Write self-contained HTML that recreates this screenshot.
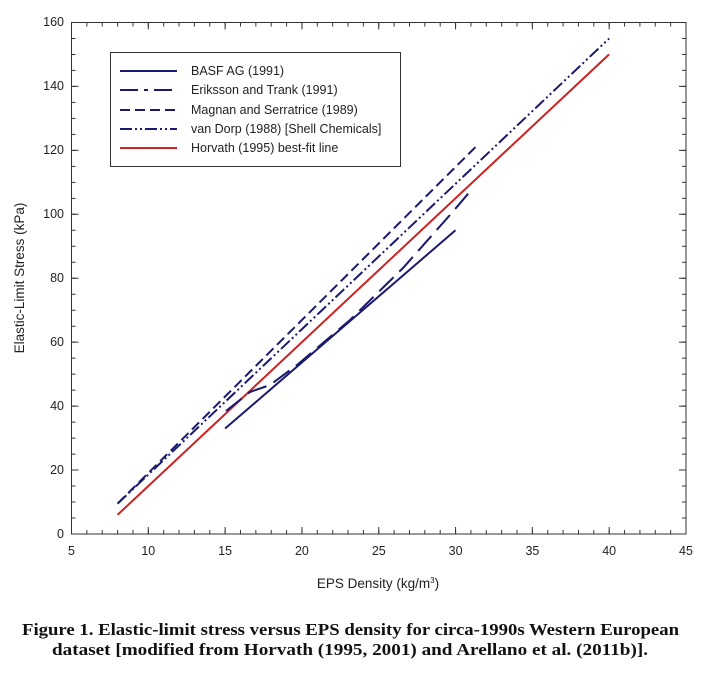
<!DOCTYPE html>
<html><head><style>
body{margin:0;background:#fff;width:701px;height:669px;overflow:hidden}
</style></head><body>
<svg width="701" height="669" xmlns="http://www.w3.org/2000/svg" font-family="Liberation Sans, DejaVu Sans, sans-serif">
<rect x="0" y="0" width="701" height="669" fill="#fff"/>
<rect x="71.5" y="22.5" width="614.5" height="511.5" fill="none" stroke="#333" stroke-width="1"/>
<g stroke="#333" fill="none">
<line x1="71" y1="532" x2="687" y2="532" stroke-width="4" stroke-dasharray="1 14.3625"/>
<line x1="71" y1="530.5" x2="687" y2="530.5" stroke-width="7" stroke-dasharray="1 75.8125"/>
<line x1="71" y1="24.5" x2="687" y2="24.5" stroke-width="4" stroke-dasharray="1 14.3625"/>
<line x1="71" y1="26" x2="687" y2="26" stroke-width="7" stroke-dasharray="1 75.8125"/>
<line x1="73.5" y1="534.5" x2="73.5" y2="21" stroke-width="4" stroke-dasharray="1 14.985"/>
<line x1="75" y1="534.5" x2="75" y2="21" stroke-width="7" stroke-dasharray="1 62.94"/>
<line x1="684" y1="534.5" x2="684" y2="21" stroke-width="4" stroke-dasharray="1 14.985"/>
<line x1="682.5" y1="534.5" x2="682.5" y2="21" stroke-width="7" stroke-dasharray="1 62.94"/>
</g>
<g font-size="12.5" fill="#222" text-anchor="end">
<text x="64" y="538">0</text><text x="64" y="474">20</text><text x="64" y="410">40</text>
<text x="64" y="346">60</text><text x="64" y="282">80</text><text x="64" y="218">100</text>
<text x="64" y="154">120</text><text x="64" y="90">140</text><text x="64" y="26">160</text>
</g>
<g font-size="12.5" fill="#222" text-anchor="middle">
<text x="71.5" y="555">5</text><text x="148.3" y="555">10</text><text x="225.1" y="555">15</text>
<text x="301.9" y="555">20</text><text x="378.8" y="555">25</text><text x="455.6" y="555">30</text>
<text x="532.4" y="555">35</text><text x="609.2" y="555">40</text><text x="686" y="555">45</text>
</g>
<text x="378" y="588" font-size="13.5" text-anchor="middle" fill="#222">EPS Density (kg/m<tspan dy="-5" font-size="8">3</tspan><tspan dy="5">)</tspan></text>
<text transform="translate(24,278) rotate(-90)" font-size="13.5" text-anchor="middle" fill="#222">Elastic-Limit Stress (kPa)</text>
<g fill="none" stroke-width="2">
<polyline stroke="#cc2222" points="117.6,514.8 609.1,54.4"/>
<polyline stroke="#1a1a6e" points="225.1,428.5 455.5,230.3"/>
<polyline stroke="#1a1a6e" stroke-dasharray="20,8" points="226,411 250,392 270,385 297,365 350,320 403,268 450,215 473,188"/>
<polyline stroke="#1a1a6e" stroke-dasharray="10,5" points="117.6,503.6 478.6,144"/>
<polyline stroke="#1a1a6e" stroke-dasharray="12,3,2,3,2,3" points="117.6,503.6 609.1,38.5"/>
</g>
<rect x="110.5" y="52.5" width="290" height="114" fill="#fff" stroke="#333"/>
<g stroke-width="2" fill="none">
<line x1="120" y1="71" x2="177" y2="71" stroke="#1a1a6e"/>
<line x1="120" y1="90" x2="177" y2="90" stroke="#1a1a6e" stroke-dasharray="18,6,4,6"/>
<line x1="120" y1="110" x2="177" y2="110" stroke="#1a1a6e" stroke-dasharray="10,5"/>
<line x1="120" y1="129" x2="177" y2="129" stroke="#1a1a6e" stroke-dasharray="12,3,2,3,2,3"/>
<line x1="120" y1="148" x2="177" y2="148" stroke="#cc2222"/>
</g>
<g font-size="12.5" fill="#222">
<text x="191" y="75">BASF AG (1991)</text>
<text x="191" y="94">Eriksson and Trank (1991)</text>
<text x="191" y="114">Magnan and Serratrice (1989)</text>
<text x="191" y="133">van Dorp (1988) [Shell Chemicals]</text>
<text x="191" y="152">Horvath (1995) best-fit line</text>
</g>
<g font-family="Liberation Serif, serif" font-weight="bold" font-size="17" fill="#111">
<text x="22" y="635" textLength="657" lengthAdjust="spacingAndGlyphs">Figure 1. Elastic-limit stress versus EPS density for circa-1990s Western European</text>
<text x="52" y="655" textLength="596" lengthAdjust="spacingAndGlyphs">dataset [modified from Horvath (1995, 2001) and Arellano et al. (2011b)].</text>
</g>
</svg>
</body></html>
